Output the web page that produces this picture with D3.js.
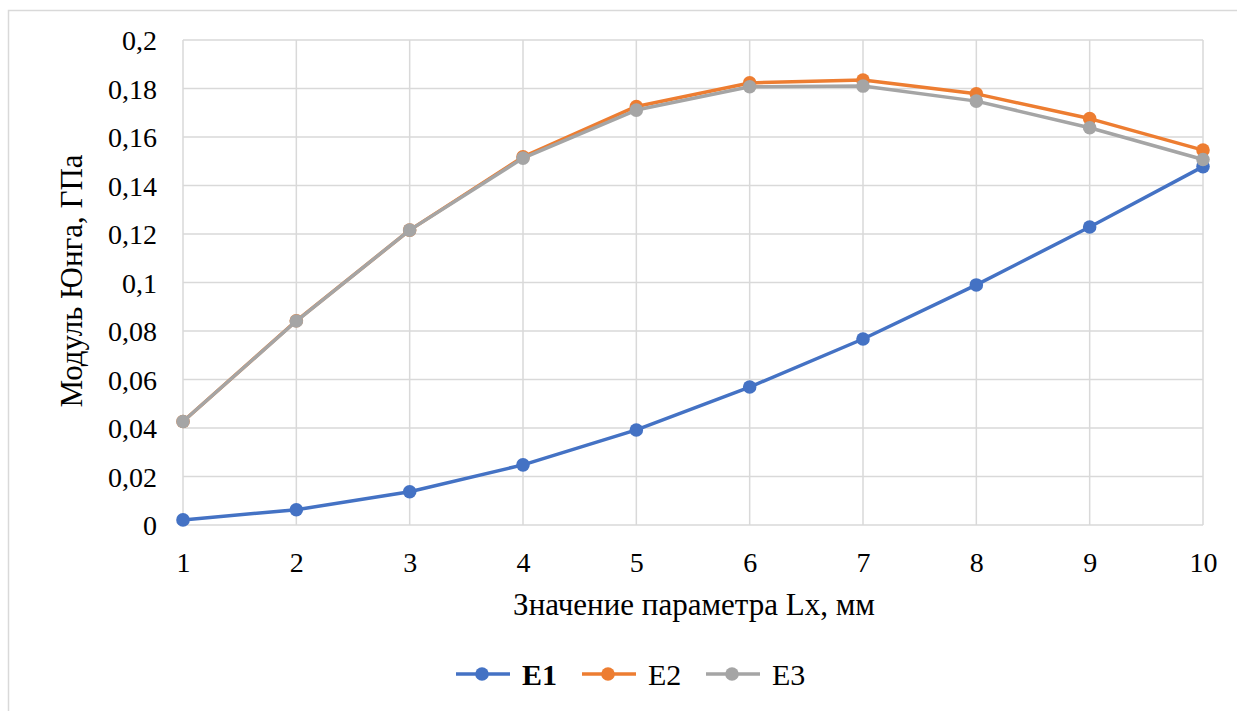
<!DOCTYPE html>
<html><head><meta charset="utf-8">
<script src="https://cdn.jsdelivr.net/npm/d3@7"></script>
<style>body{margin:0;background:#fff}svg{display:block}
svg text{font-family:"Liberation Serif","Times New Roman",Times,serif;fill:#000}</style>
</head><body>
<svg id="c" width="1237" height="711"></svg>
<script>
const xValues = [1,2,3,4,5,6,7,8,9,10];
const E1 = [0.0021,0.0063,0.0137,0.0248,0.0392,0.0569,0.0767,0.0990,0.1229,0.1478];
const E2 = [0.0427,0.0842,0.1216,0.1518,0.1726,0.1823,0.1835,0.1778,0.1676,0.1546];
const E3 = [0.0427,0.0841,0.1216,0.1513,0.1711,0.1807,0.1810,0.1748,0.1638,0.1507];
const seriesNames = ["E1","E2","E3"];
const seriesColors = ["#4472C4","#ED7D31","#A5A5A5"];
const yTicks = [0,0.02,0.04,0.06,0.08,0.1,0.12,0.14,0.16,0.18,0.2];
const xTitle = "Значение параметра Lx, мм";
const yTitle = "Модуль Юнга, ГПа";

const svg = d3.select("#c");
svg.append("rect").attr("x",8.5).attr("y",10.5).attr("width",1240).attr("height",720)
  .attr("fill","#fff").attr("stroke","#d9d9d9").attr("stroke-width",1.5);

const x = d3.scaleLinear().domain([1,10]).range([183,1203]);
const y = d3.scaleLinear().domain([0,0.2]).range([525,40]);

const g = svg.append("g");
g.selectAll(".hg").data(yTicks).join("line")
  .attr("x1",x(1)).attr("x2",x(10)).attr("y1",d=>y(d)).attr("y2",d=>y(d))
  .attr("stroke","#d9d9d9").attr("stroke-width",1.5);
g.selectAll(".vg").data(xValues).join("line")
  .attr("y1",y(0)).attr("y2",y(0.2)).attr("x1",d=>x(d)).attr("x2",d=>x(d))
  .attr("stroke","#d9d9d9").attr("stroke-width",1.5);

const fmt = d => String(d).replace(".",",");
const ya = svg.append("g").attr("transform",`translate(${x(1)},0)`)
  .call(d3.axisLeft(y).tickValues(yTicks).tickFormat(fmt).tickSize(0).tickPadding(26));
ya.attr("font-family",null).attr("font-size",null);
ya.select(".domain").remove();
ya.selectAll("text").style("font-size","28px").attr("dy","0.35em");
const xa = svg.append("g").attr("transform",`translate(0,${y(0)})`)
  .call(d3.axisBottom(x).tickValues(xValues).tickFormat(d3.format("d")).tickSize(0).tickPadding(27));
xa.attr("font-family",null).attr("font-size",null);
xa.select(".domain").remove();
xa.selectAll("text").style("font-size","28px");

svg.append("text").attr("x",694).attr("y",615).attr("text-anchor","middle")
  .style("font-size","31px").text(xTitle);
svg.append("text").attr("transform","translate(82,281) rotate(-90)").attr("text-anchor","middle")
  .style("font-size","31px").text(yTitle);

const data = [E1,E2,E3];
const line = d3.line().x((d,i)=>x(xValues[i])).y(d=>y(d));
data.forEach((s,k)=>{
  svg.append("path").datum(s).attr("d",line).attr("fill","none")
    .attr("stroke",seriesColors[k]).attr("stroke-width",3.5).attr("stroke-linejoin","round");
  svg.selectAll(".m"+k).data(s).join("circle")
    .attr("cx",(d,i)=>x(xValues[i])).attr("cy",d=>y(d)).attr("r",6.8).attr("fill",seriesColors[k]);
});

const lx = [456,582,706];
seriesNames.forEach((n,k)=>{
  const lg = svg.append("g").attr("transform",`translate(${lx[k]},674)`);
  lg.append("line").attr("x1",0).attr("x2",54).attr("stroke",seriesColors[k]).attr("stroke-width",3.5);
  lg.append("circle").attr("cx",26).attr("r",6.8).attr("fill",seriesColors[k]);
  lg.append("text").attr("x",66).attr("y",11).style("font-size","30px")
    .style("font-weight",k===0?"bold":"normal").text(n);
});
</script>
</body></html>
